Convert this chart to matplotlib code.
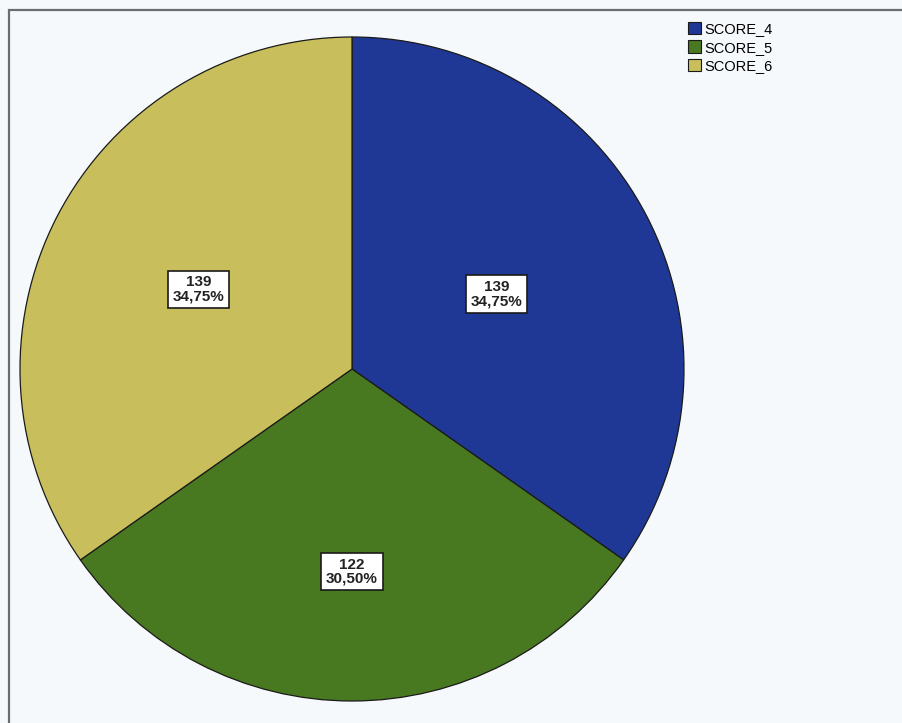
import matplotlib
matplotlib.use("Agg")
import matplotlib.pyplot as plt
from matplotlib.patches import Rectangle, Patch
import numpy as np

plt.rcParams['font.family'] = ['Liberation Sans', 'DejaVu Sans']

# data
labels = ['SCORE_4', 'SCORE_5', 'SCORE_6']
counts = [139, 122, 139]
pct_text = ['34,75%', '30,50%', '34,75%']
colors = ['#1f3896', '#48781f', '#c8bf5c']
label_r = [0.49, 0.61, 0.52]

fig = plt.figure(figsize=(9.02, 7.23), dpi=100)
fig.patch.set_facecolor('#f6f9fc')

# outer frame (runs off right and bottom)
fig.add_artist(Rectangle((8.5 / 902, -0.1), 1.2, 1.1 - 10.5 / 723,
                         transform=fig.transFigure, fill=False,
                         edgecolor='#6a6d72', linewidth=1.6))

ax = fig.add_axes([20 / 902, 22 / 723, 664 / 902, 664 / 723])

wedges, _ = ax.pie(counts, colors=colors, startangle=90, counterclock=False,
                   radius=1.0, wedgeprops=dict(edgecolor='#1a1a1a', linewidth=0.9))
ax.set_xlim(-1, 1)
ax.set_ylim(-1, 1)
ax.axis('off')

for w, n, p, r in zip(wedges, counts, pct_text, label_r):
    ang = np.deg2rad((w.theta1 + w.theta2) / 2)
    ax.text(r * np.cos(ang), r * np.sin(ang), f"{n}\n{p}", ha='center', va='center',
            fontsize=11, fontweight='bold', color='#222222', linespacing=1.0,
            bbox=dict(boxstyle='square,pad=0.3', facecolor='white',
                      edgecolor='#1a1a1a', linewidth=1.2))

handles = [Patch(facecolor=c, edgecolor='#1a1a1a', linewidth=0.8) for c in colors]
fig.legend(handles, labels, loc='upper left', bbox_to_anchor=(688 / 902, 1 - 22 / 723),
           frameon=False, fontsize=10.5, handlelength=0.9, handleheight=0.9,
           handletextpad=0.2, labelspacing=0.3, borderpad=0, borderaxespad=0)

fig.savefig('out.png', dpi=100, facecolor=fig.get_facecolor())
